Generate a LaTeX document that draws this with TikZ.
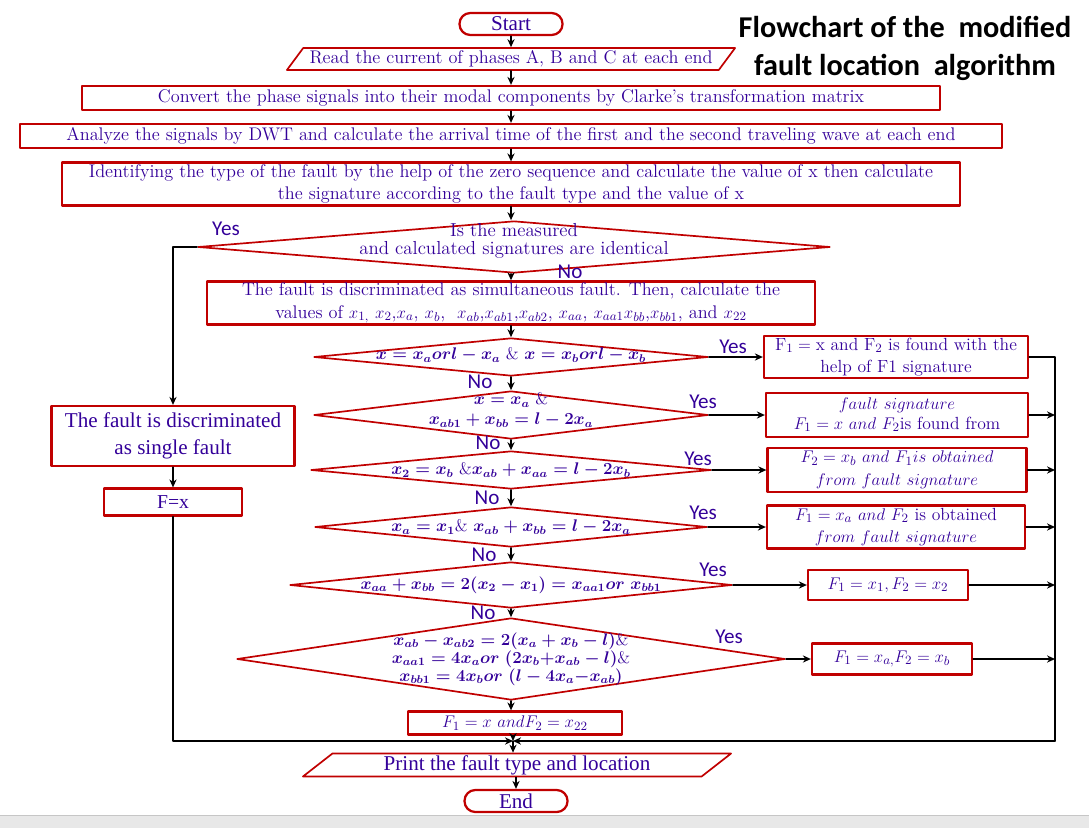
\documentclass[tikz,border=0pt]{standalone}
\usepackage{fontspec}
\newfontfamily\calibri{Carlito}
\newfontfamily\timesf{Liberation Serif}
\usetikzlibrary{arrows.meta,shapes.geometric}
\definecolor{txtblue}{RGB}{51,0,153}
\definecolor{boxred}{RGB}{192,0,0}

\begin{document}
\begin{tikzpicture}[x=0.025cm,y=-0.025cm,>={Stealth[length=2mm,width=1.8mm]},line cap=round,line join=round,
  box/.style={draw=boxred,line width=1.6pt,text=txtblue,inner sep=1pt,align=center,font=\fontsize{13}{16}\selectfont},
  term/.style={box,rounded corners=0.27cm,font=\timesf\fontsize{15}{16}\selectfont},
  io/.style={box,trapezium,trapezium left angle=50,trapezium right angle=130,trapezium stretches body,line width=1.2pt},
  dia/.style={diamond,draw=boxred,line width=1.2pt,inner sep=0pt},
  diatext/.style={text=txtblue,inner sep=0pt,align=center,font=\boldmath\fontsize{12}{14}\selectfont},
  lbl/.style={text=txtblue,inner sep=0pt,font=\calibri\fontsize{15}{16}\selectfont},
  conn/.style={->,line width=1pt}]
\useasboundingbox (0,0) rectangle (1089,828);
\fill[gray!18] (0,815) rectangle (1089,828);
\draw[gray!45,line width=0.6pt] (0,815) -- (1089,815);
\node[font=\calibri\bfseries\fontsize{21.5}{27}\selectfont,align=center,inner sep=0pt] (title) at (905,48) {Flowchart of the\ \ modified\\fault location\ \ algorithm};
\node[term,minimum width=2.575cm,minimum height=0.55cm] (start) at (511,24) {Start};
\node[io,minimum width=11.2cm,minimum height=0.55cm] (read) at (511,59) {Read the current of phases A, B and C at each end};
\node[box,minimum width=21.45cm,minimum height=0.6cm] (convert) at (511,98) {Convert the phase signals into their modal components by Clarke’s transformation matrix};
\node[box,minimum width=24.55cm,minimum height=0.6cm] (analyze) at (511,136) {Analyze the signals by DWT and calculate the arrival time of the first and the second traveling wave at each end};
\node[box,minimum width=22.45cm,minimum height=1.075cm] (identify) at (511,184) {Identifying the type of the fault by the help of the zero sequence and calculate the value of x then calculate\\the signature according to the fault type and the value of x};
\node[dia,minimum width=15.8cm,minimum height=1.3cm] (d1) at (514,247) {};
\node[text=txtblue,inner sep=0pt,align=center,font=\fontsize{13.4}{12.5}\selectfont] (d1t) at (514,241) {Is the measured\\and calculated signatures are identical};
\node[box,minimum width=15.2cm,minimum height=1.075cm] (simult) at (511,303) {The fault is discriminated as simultaneous fault. Then, calculate the\\values of $x_{1,}$ $x_2$,$x_a$, $x_b$,\ \ $x_{ab}$,$x_{ab1}$,$x_{ab2}$, $x_{aa}$, $x_{aa1}x_{bb}$,$x_{bb1}$, and $x_{22}$};
\node[dia,minimum width=9.85cm,minimum height=0.95cm] (d2) at (511,357) {};
\node[diatext] (d2t) at (511,355) {$x = x_a or l - x_a$ \& $x = x_b or l - x_b$};
\node[dia,minimum width=9.85cm,minimum height=1.2cm] (d3) at (511,415) {};
\node[diatext] (d3t) at (511,410) {$x = x_a$ \&\\$x_{ab1} + x_{bb} = l - 2x_a$};
\node[dia,minimum width=10cm,minimum height=0.95cm] (d4) at (511,470) {};
\node[diatext] (d4t) at (d4) {$x_2 = x_b$ \&$x_{ab} + x_{aa} = l - 2x_b$};
\node[dia,minimum width=9.8cm,minimum height=1cm] (d5) at (511,527) {};
\node[diatext] (d5t) at (d5) {$x_a = x_1$\& $x_{ab} + x_{bb} = l - 2x_a$};
\node[dia,minimum width=11.05cm,minimum height=1.15cm] (d6) at (511,585) {};
\node[diatext] (d6t) at (d6) {$x_{aa} + x_{bb} = 2(x_2 - x_1) = x_{aa1} or\ x_{bb1}$};
\node[dia,minimum width=13.7cm,minimum height=2.05cm] (d7) at (511,659) {};
\node[diatext,font=\boldmath\fontsize{12}{12.8}\selectfont] (d7t) at (d7) {$x_{ab} - x_{ab2} = 2(x_a + x_b - l)$\&\\$x_{aa1} = 4x_a or\ (2x_b {+} x_{ab} - l)$\&\\$x_{bb1} = 4x_b or\ (l - 4x_a {-} x_{ab})$};
\node[box,minimum width=5.35cm,minimum height=0.575cm,font=\fontsize{12.5}{14}\selectfont] (ffin) at (515,723) {$F_1 = x\ and F_2 = x_{22}$};
\node[box,minimum width=6.6cm,minimum height=1.025cm,font=\fontsize{12.5}{16}\selectfont] (r1) at (896,357) {$\mathrm{F}_1 = \mathrm{x}$ and $\mathrm{F}_2$ is found with the\\help of F1 signature};
\node[box,minimum width=6.55cm,minimum height=1.1cm,font=\fontsize{12.5}{14}\selectfont] (r2) at (897,415) {$fault\ signature$\\$F_1 = x\ and\ F_2$is found from};
\node[box,minimum width=6.475cm,minimum height=1.1cm,font=\fontsize{12.5}{16}\selectfont] (r3) at (897,470) {$F_2 = x_b\ and\ F_1 is\ obtained$\\$from\ fault\ signature$};
\node[box,minimum width=6.45cm,minimum height=1.075cm,font=\fontsize{12.5}{16}\selectfont] (r4) at (896,527) {$F_1 = x_a\ and\ F_2$ is obtained\\$from\ fault\ signature$};
\node[box,minimum width=4cm,minimum height=0.75cm,font=\fontsize{12.5}{14}\selectfont] (r5) at (888,585) {$F_1 = x_1, F_2 = x_2$};
\node[box,minimum width=4cm,minimum height=0.775cm,font=\fontsize{12.5}{14}\selectfont] (r6) at (892,659) {$F_1 = x_{a,}F_2 = x_b$};
\node[box,minimum width=6.075cm,minimum height=1.5cm,font=\timesf\fontsize{15}{19}\selectfont] (single) at (173,436) {The fault is discriminated\\as single fault};
\node[box,minimum width=3.45cm,minimum height=0.675cm,font=\timesf\fontsize{14}{15}\selectfont] (fx) at (173,502) {F=x};
\node[io,trapezium left angle=37,trapezium right angle=143,minimum width=10.7cm,minimum height=0.575cm,font=\timesf\fontsize{15}{16}\selectfont] (print) at (517,765) {Print the fault type and location};
\node[term,minimum width=2.575cm,minimum height=0.55cm] (end) at (516,801) {End};
\coordinate (join) at (513,741);
\coordinate (rbot) at (1055,741);
\node[lbl] (yes1) at (226,229) {Yes};
\node[lbl] (no1) at (570,272) {No};
\node[lbl] (yes2) at (733,347) {Yes};
\node[lbl] (no2) at (480,382) {No};
\node[lbl] (yes3) at (703,402) {Yes};
\node[lbl] (no3) at (488,443) {No};
\node[lbl] (yes4) at (698,459) {Yes};
\node[lbl] (no4) at (487,498) {No};
\node[lbl] (yes5) at (703,513) {Yes};
\node[lbl] (no5) at (484,555) {No};
\node[lbl] (yes6) at (713,570) {Yes};
\node[lbl] (no6) at (483,613) {No};
\node[lbl] (yes7) at (729,637) {Yes};
\draw[conn] (start) -- (start |- read.north);
\draw[conn] (read.south -| start) -- (start |- convert.north);
\draw[conn] (convert) -- (analyze);
\draw[conn] (analyze) -- (identify);
\draw[conn] (identify.south) -- (identify.south |- d1.north);
\draw[conn] (d1.south -| simult) -- (simult);
\draw[conn] (d1.west) -| (single);
\draw[conn] (single) -- (fx);
\draw[conn] (simult) -- (d2);
\draw[conn] (d2) -- (d3);
\draw[conn] (d3) -- (d4);
\draw[conn] (d4) -- (d5);
\draw[conn] (d5) -- (d6);
\draw[conn] (d6) -- (d7);
\draw[conn] (d7.south) -- (d7.south |- ffin.north);
\draw[conn] (d2.east) -- (r1);
\draw[conn] (d3.east) -- (r2);
\draw[conn] (d4.east) -- (r3);
\draw[conn] (d5.east) -- (r4);
\draw[conn] (d6.east) -- (r5);
\draw[conn] (d7.east) -- (r6);
\draw[line width=1pt] (r1.east) -| (rbot);
\draw[conn] (r2.east) -- (r2.east -| rbot);
\draw[conn] (r3.east) -- (r3.east -| rbot);
\draw[conn] (r4.east) -- (r4.east -| rbot);
\draw[conn] (r5.east) -- (r5.east -| rbot);
\draw[conn] (r6.east) -- (r6.east -| rbot);
\draw[conn] (rbot) -- (join);
\draw[conn] (fx.south) |- (join);
\draw[conn] (ffin.south -| join) -- (join);
\draw[conn] (join) -- (join |- print.north);
\draw[conn] (print.south -| end) -- (end);
\end{tikzpicture}
\end{document}
